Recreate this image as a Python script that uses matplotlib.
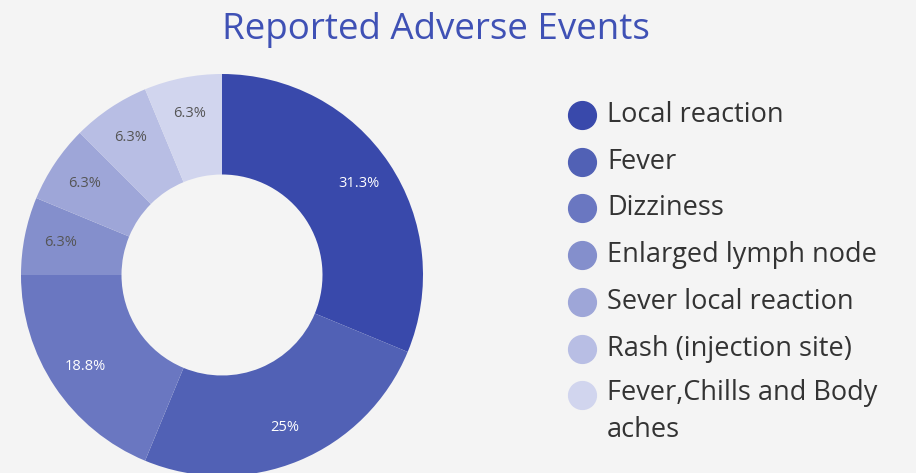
import matplotlib
matplotlib.use("Agg")
import numpy as np
import matplotlib.pyplot as plt

categories = ["Local reaction", "Fever", "Dizziness", "Enlarged lymph node",
              "Sever local reaction", "Rash (injection site)",
              "Fever,Chills and Body\naches"]
counts = [5, 4, 3, 1, 1, 1, 1]
colors = ["#3949AB", "#5161B5", "#6A77C1", "#848FCC",
          "#9EA6D8", "#B8BEE4", "#D1D5EE"]
label_colors = ["white", "white", "white", "#555555", "#555555", "#555555", "#555555"]

BG = "#F4F4F4"
plt.rcParams["font.family"] = ["Open Sans", "DejaVu Sans"]

W, H = 916, 473
fig = plt.figure(figsize=(W / 100, H / 100), dpi=100, facecolor=BG)

# donut: centre (222, 275) px, radius 201 px
cx, cy, r = 222, 275, 201
ax = fig.add_axes([(cx - r) / W, (H - cy - r) / H, 2 * r / W, 2 * r / H])
ax.set_facecolor(BG)
total = sum(counts)
pct_text = [f"{round(c / total * 100 + 1e-9, 1):g}%" for c in counts]
wedges, _ = ax.pie(counts, colors=colors, startangle=90, counterclock=False,
                   radius=1, wedgeprops=dict(width=0.5, edgecolor="none"))
for w, txt, tc in zip(wedges, pct_text, label_colors):
    mid = np.deg2rad((w.theta1 + w.theta2) / 2)
    ax.text(0.82 * np.cos(mid), 0.82 * np.sin(mid), txt, ha="center", va="center",
            color=tc, fontsize=10.5)
ax.set_xlim(-1, 1)
ax.set_ylim(-1, 1)
ax.set_aspect("equal")
ax.axis("off")

# overlay in pixel coords for title and legend
ov = fig.add_axes([0, 0, 1, 1], facecolor="none")
ov.set_xlim(0, W)
ov.set_ylim(H, 0)
ov.axis("off")
ov.text(436, 30, "Reported Adverse Events", ha="center", va="center",
        fontsize=26.5, color="#3F51B5")

y0, step = 115, 46.7
for i, (lab, col) in enumerate(zip(categories, colors)):
    y = y0 + i * step
    ov.plot([582], [y], marker="o", markersize=20, color=col, linestyle="none")
    if "\n" in lab:
        ov.text(607, y - 16, lab, ha="left", va="top", fontsize=19.5,
                color="#333333", linespacing=1.4)
    else:
        ov.text(607, y, lab, ha="left", va="center", fontsize=19.5,
                color="#333333")

fig.savefig("out.png", dpi=100, facecolor=BG)
